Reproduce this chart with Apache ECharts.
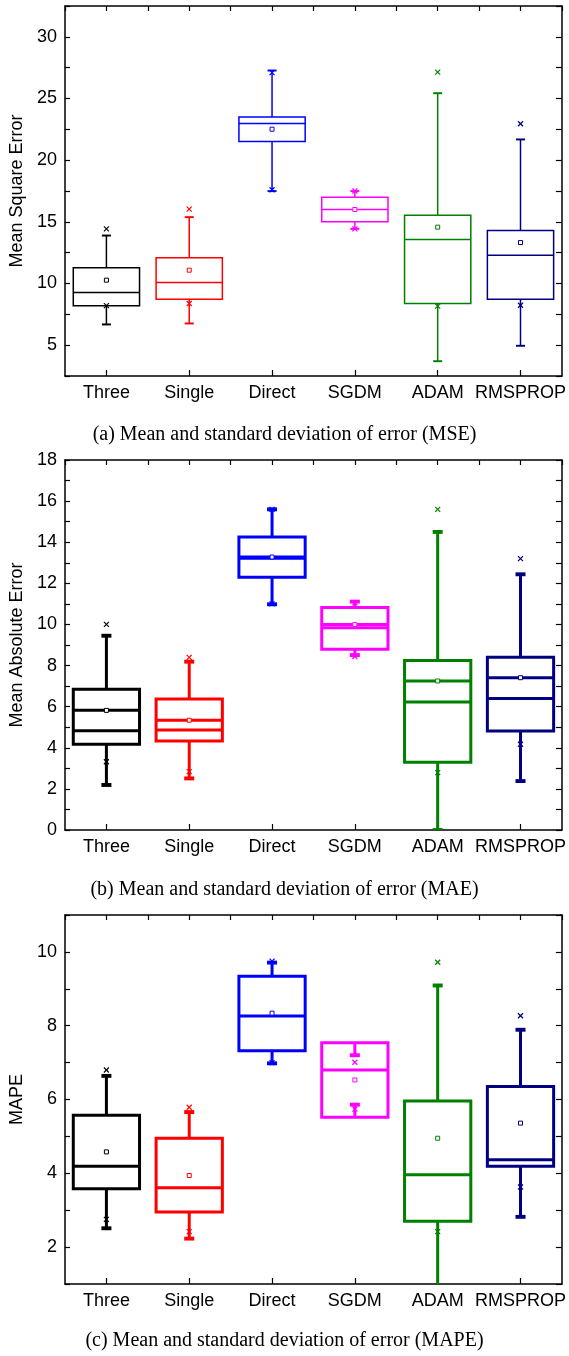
<!DOCTYPE html>
<html>
<head>
<meta charset="utf-8">
<script src="https://cdn.jsdelivr.net/npm/echarts@6/dist/echarts.min.js"></script>
<style>
  html, body { margin: 0; padding: 0; background: #fff; }
  #chart { width: 569px; height: 1356px; }
</style>
</head>
<body>
<div id="chart"></div>
<script>
const categories = ['Three', 'Single', 'Direct', 'SGDM', 'ADAM', 'RMSPROP']

// (a) MSE
const mseMin = [6.68, 6.76, 17.49, 14.43, 3.70, 4.95]
const mseQ1 = [8.19, 8.73, 21.51, 15.0, 8.38, 8.73]
const mseMedian = [9.27, 10.08, 22.97, 16.0, 13.57, 12.30]
const mseQ3 = [11.27, 12.08, 23.51, 17.0, 15.54, 14.30]
const mseMax = [13.89, 15.38, 27.27, 17.49, 25.43, 21.68]
const mseMean = [10.27, 11.08, 22.51, 16.0, 14.57, 13.32]
const mseP1 = [8.2, 8.38, 17.6, 14.43, 8.16, 8.24]
const mseP99 = [14.43, 16.03, 27.1, 17.5, 27.14, 22.95]

// (b) MAE
const maeMin = [2.19, 2.51, 10.98, 8.51, 0, 2.38]
const maeQ1 = [4.17, 4.33, 12.29, 8.79, 3.29, 4.82]
const maeMedian = [4.83, 4.86, 13.22, 9.84, 6.23, 6.40]
const maeQ3 = [6.85, 6.37, 14.25, 10.82, 8.24, 8.40]
const maeMax = [9.45, 8.19, 15.60, 11.11, 14.50, 12.44]
const maeMean = [5.82, 5.34, 13.28, 10.0, 7.25, 7.41]
const maeP1 = [3.32, 2.84, 11.0, 8.44, 2.79, 4.17]
const maeP99 = [10.0, 8.40, 15.6, 11.05, 15.6, 13.2]

// (c) MAPE
const mapeMin = [2.51, 2.23, 6.98, 5.86, 0.8, 2.82]
const mapeQ1 = [3.58, 2.95, 7.32, 5.52, 2.70, 4.19]
const mapeMedian = [4.19, 3.61, 8.26, 6.80, 3.96, 4.37]
const mapeQ3 = [5.57, 4.95, 9.34, 7.54, 5.96, 6.35]
const mapeMax = [6.64, 5.66, 9.71, 7.20, 9.09, 7.89]
const mapeMean = [4.58, 3.94, 8.34, 6.53, 4.95, 5.36]
const mapeP1 = [2.75, 2.42, 7.0, 5.74, 2.42, 3.63]
const mapeP99 = [6.80, 5.79, 9.75, 7.01, 9.72, 8.27]

const boxColors = ['#000000', '#ff0000', '#0000ff', '#ff00ff', '#008000', '#000080']
const font = 'Liberation Sans, Arial, sans-serif'

function rows (mn, q1, md, q3, mx, mean, p1, p99) {
  return categories.map((c, i) => [i, mn[i], q1[i], md[i], q3[i], mx[i], mean[i], p1[i], p99[i]])
}

function makeRender (lw, capW, meanAsLine) {
  return function (params, api) {
    const i = api.value(0)
    const c = boxColors[i]
    const x = api.coord([i, 0])[0]
    const y = v => api.coord([i, api.value(v)])[1]
    const bw = api.size([1, 0])[0] * 0.8
    const line = (x1, y1, x2, y2, w) => ({
      type: 'line',
      shape: { x1, y1, x2, y2 },
      style: { stroke: c, lineWidth: w || lw, fill: null }
    })
    const cross = (yy) => [
      line(x - 2.5, yy - 2.5, x + 2.5, yy + 2.5, 1.2),
      line(x - 2.5, yy + 2.5, x + 2.5, yy - 2.5, 1.2)
    ]
    const yMin = y(1), yQ1 = y(2), yMed = y(3), yQ3 = y(4), yMax = y(5), yMean = y(6)
    const children = [
      line(x, yQ3, x, yMax),
      line(x - capW / 2, yMax, x + capW / 2, yMax, lw * 1.3),
      line(x, yQ1, x, yMin),
      line(x - capW / 2, yMin, x + capW / 2, yMin, lw * 1.3),
      {
        type: 'rect',
        shape: { x: x - bw / 2, y: yQ3, width: bw, height: yQ1 - yQ3 },
        style: { stroke: c, lineWidth: lw, fill: null }
      },
      line(x - bw / 2, yMed, x + bw / 2, yMed)
    ]
    if (meanAsLine) children.push(line(x - bw / 2, yMean, x + bw / 2, yMean))
    children.push({
      type: 'rect',
      shape: { x: x - 2, y: yMean - 2, width: 4, height: 4 },
      style: { stroke: c, lineWidth: 1, fill: '#fff' }
    })
    children.push(...cross(y(7)), ...cross(y(8)))
    return {
      type: 'group',
      clipPath: { type: 'rect', shape: params.coordSys },
      children
    }
  }
}

const panels = [
  { top: 6, height: 370, min: 2.5, max: 32.5, step: 2.5, major: 5, name: 'Mean Square Error', lw: 1.5, cap: 9, meanLine: false,
    data: rows(mseMin, mseQ1, mseMedian, mseQ3, mseMax, mseMean, mseP1, mseP99),
    caption: '(a) Mean and standard deviation of error (MSE)', capTop: 420 },
  { top: 460, height: 370, min: 0, max: 18, step: 1, major: 2, name: 'Mean Absolute Error', lw: 3, cap: 10, meanLine: true,
    data: rows(maeMin, maeQ1, maeMedian, maeQ3, maeMax, maeMean, maeP1, maeP99),
    caption: '(b) Mean and standard deviation of error (MAE)', capTop: 875 },
  { top: 915, height: 369, min: 1, max: 11, step: 1, major: 2, name: 'MAPE', lw: 3, cap: 10, meanLine: false,
    data: rows(mapeMin, mapeQ1, mapeMedian, mapeQ3, mapeMax, mapeMean, mapeP1, mapeP99),
    caption: '(c) Mean and standard deviation of error (MAPE)', capTop: 1326 }
]

const axisLine = { show: true, onZero: false, lineStyle: { color: '#000', width: 1.5 } }
const tick = (len) => ({ show: true, inside: true, length: len, lineStyle: { color: '#000', width: 1.2 } })

const grid = [], xAxis = [], yAxis = [], series = [], title = []
panels.forEach((p, g) => {
  grid.push({ left: 65, width: 497, top: p.top, height: p.height })
  xAxis.push({
    type: 'category', gridIndex: g, position: 'bottom', data: categories,
    axisLine, axisTick: Object.assign(tick(6), { alignWithLabel: true }),
    axisLabel: { color: '#000', fontSize: 18, fontFamily: font, margin: 8, interval: 0 },
    splitLine: { show: false }
  })
  xAxis.push({
    type: 'value', gridIndex: g, position: 'top', min: 0, max: 6, interval: 0.5,
    axisLine, axisTick: tick(5), axisLabel: { show: false }, splitLine: { show: false }
  })
  yAxis.push({
    type: 'value', gridIndex: g, position: 'left', min: p.min, max: p.max, interval: p.step,
    name: p.name, nameLocation: 'middle', nameGap: 39,
    nameTextStyle: { color: '#000', fontSize: 18, fontFamily: font },
    axisLine, axisTick: tick(5),
    axisLabel: {
      color: '#000', fontSize: 18, fontFamily: font, margin: 8, showMinLabel: true, showMaxLabel: true,
      formatter: v => (Math.abs(v / p.major - Math.round(v / p.major)) < 1e-6 ? String(v) : '')
    },
    splitLine: { show: false }
  })
  yAxis.push({
    type: 'value', gridIndex: g, position: 'right', min: p.min, max: p.max, interval: p.step,
    axisLine, axisTick: tick(6), axisLabel: { show: false }, splitLine: { show: false }
  })
  series.push({
    type: 'custom', xAxisIndex: 2 * g, yAxisIndex: 2 * g,
    renderItem: makeRender(p.lw, p.cap, p.meanLine),
    encode: { x: 0, y: [1, 2, 3, 4, 5, 6, 7, 8] },
    data: p.data, silent: true, animation: false
  })
  title.push({
    text: p.caption, left: 'center', top: p.capTop,
    textStyle: { color: '#000', fontSize: 20, fontWeight: 'normal', fontFamily: 'Liberation Serif, Times New Roman, serif' }
  })
})

const chart = echarts.init(document.getElementById('chart'))
chart.setOption({ animation: false, title, grid, xAxis, yAxis, series })
</script>
</body>
</html>
